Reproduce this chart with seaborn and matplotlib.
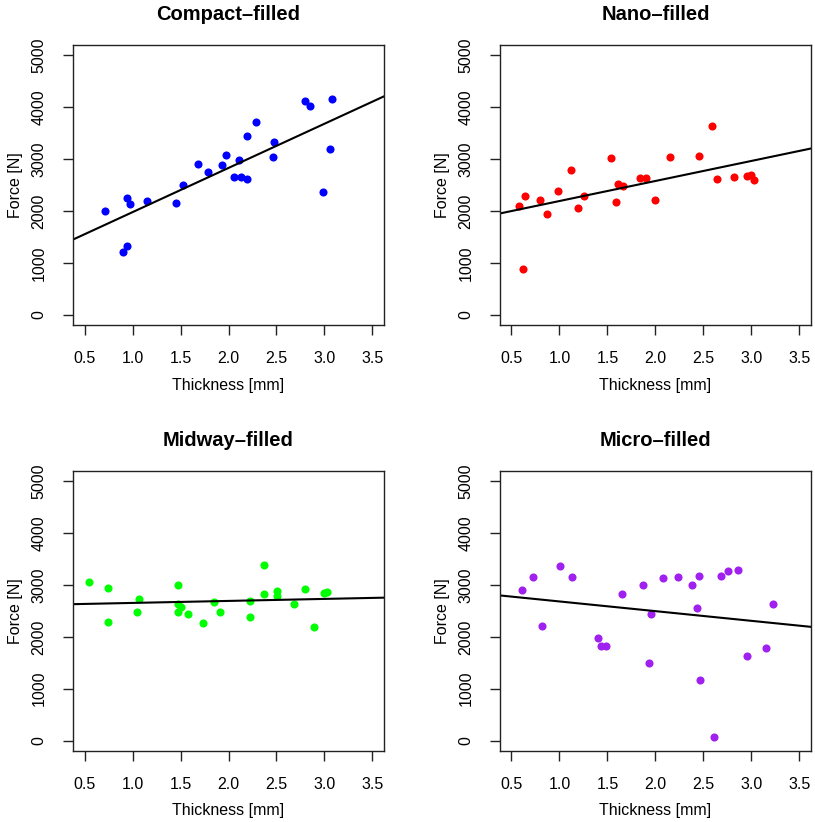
import numpy as np
import matplotlib
matplotlib.use("Agg")
import matplotlib.pyplot as plt
import seaborn as sns

# thickness [mm] and force [N]
compact_x = [0.715, 0.905, 0.943, 0.943, 0.971, 1.154, 1.448, 1.528, 1.687, 1.784,
             1.933, 1.974, 2.109, 2.054, 2.126, 2.192, 2.189, 2.285, 2.479, 2.465,
             2.801, 2.849, 3.078, 3.057, 2.988]
compact_y = [1994, 1205, 1321, 2244, 2128, 2186, 2154, 2500, 2897, 2744,
             2878, 3071, 2981, 2647, 2647, 2609, 3436, 3705, 3321, 3032,
             4128, 4032, 4167, 3186, 2359]

nano_x = [0.583, 0.639, 0.618, 0.802, 0.868, 0.986, 1.121, 1.190, 1.256, 1.537,
          1.589, 1.610, 1.662, 1.842, 1.898, 1.998, 2.148, 2.457, 2.592, 2.637,
          2.818, 2.952, 2.991, 3.022]
nano_y = [2096, 2282, 878, 2205, 1936, 2378, 2788, 2051, 2282, 3013,
          2167, 2519, 2481, 2628, 2628, 2205, 3032, 3051, 3635, 2609,
          2647, 2673, 2692, 2590]

midway_x = [0.542, 0.749, 0.746, 1.064, 1.047, 1.476, 1.469, 1.500, 1.479, 1.580,
            1.739, 1.853, 1.912, 2.224, 2.227, 2.375, 2.375, 2.510, 2.507, 2.687,
            2.798, 2.894, 2.995, 3.023]
midway_y = [3064, 2949, 2295, 2724, 2487, 3006, 2641, 2571, 2487, 2436,
            2276, 2679, 2487, 2378, 2699, 3391, 2833, 2878, 2782, 2641,
            2929, 2199, 2853, 2872]

micro_x = [0.614, 0.729, 0.816, 1.003, 1.128, 1.405, 1.433, 1.482, 1.655, 1.874,
           1.950, 1.933, 2.082, 2.234, 2.376, 2.435, 2.449, 2.460, 2.612, 2.685,
           2.761, 2.862, 2.949, 3.157, 3.229]
micro_y = [2910, 3160, 2218, 3372, 3160, 1987, 1833, 1833, 2833, 3006,
           2449, 1506, 3141, 3160, 3006, 2564, 3179, 1160, 64, 3179,
           3276, 3295, 1622, 1795, 2641]

titles = ["Compact–filled", "Nano–filled", "Midway–filled", "Micro–filled"]
colors = ["#0000FF", "#FF0000", "#00FF00", "#A020F0"]
x_ticks = [0.5, 1.0, 1.5, 2.0, 2.5, 3.0, 3.5]
y_ticks = [0, 1000, 2000, 3000, 4000, 5000]

sns.set_style("white")
plt.rcParams["font.family"] = ["Liberation Sans", "DejaVu Sans"]
plt.rcParams["text.color"] = "black"
plt.rcParams["axes.labelcolor"] = "black"
plt.rcParams["xtick.color"] = "black"
plt.rcParams["ytick.color"] = "black"

fig, axes = plt.subplots(2, 2, figsize=(8.15, 8.22), dpi=100)
fig.subplots_adjust(left=0.0896, right=0.995, bottom=0.0864, top=0.9453,
                    wspace=0.373, hspace=0.521)

groups = [(compact_x, compact_y), (nano_x, nano_y),
          (midway_x, midway_y), (micro_x, micro_y)]

for ax, (xs, ys), title, col in zip(axes.flat, groups, titles, colors):
    ax.set_xlim(0.38, 3.62)
    ax.set_ylim(-200, 5200)
    sns.regplot(x=np.array(xs), y=np.array(ys), ax=ax, ci=None, truncate=False,
                scatter_kws=dict(color=col, s=34, linewidths=0, alpha=1),
                line_kws=dict(color="black", linewidth=1.5))
    ax.set_xlim(0.38, 3.62)
    ax.set_ylim(-200, 5200)
    ax.set_xticks(x_ticks)
    ax.set_xticklabels([f"{t:.1f}" for t in x_ticks])
    ax.set_yticks(y_ticks)
    ax.set_yticklabels([str(t) for t in y_ticks], rotation=90, va="center")
    ax.tick_params(axis="both", which="major", direction="out", length=7,
                   width=1, color="#222222", labelsize=11.5, pad=12,
                   bottom=True, left=True)
    for sp in ax.spines.values():
        sp.set_visible(True)
        sp.set_color("#222222")
        sp.set_linewidth(1.0)
    ax.set_xlabel("Thickness [mm]", fontsize=11.5, labelpad=8)
    ax.set_ylabel("Force [N]", fontsize=11.5, labelpad=6)
    ax.set_title(title, fontsize=14.5, fontweight="bold", pad=18)

fig.savefig("out.png", dpi=100)
